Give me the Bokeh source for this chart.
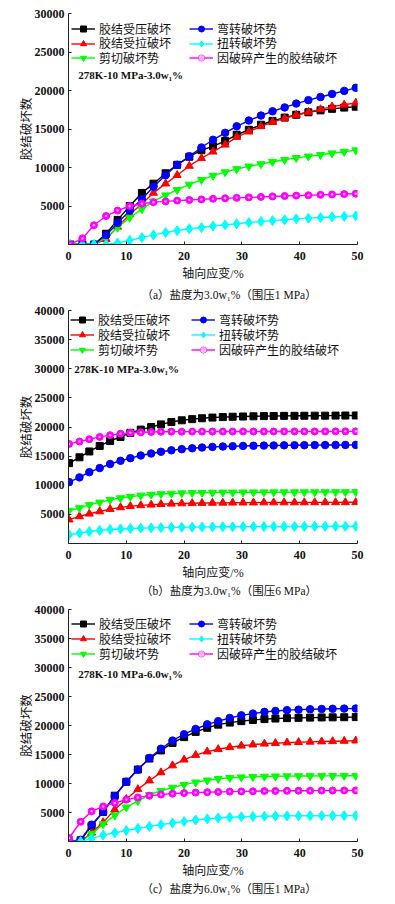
from bokeh.plotting import figure
from bokeh.models import Range1d, FixedTicker, Legend, LegendItem, Label
from bokeh.layouts import column
from bokeh.embed import file_html
from bokeh.resources import INLINE

# ---------------- data ----------------
names = ["胶结受压破坏", "胶结受拉破坏", "剪切破坏势", "弯转破坏势", "扭转破坏势", "因破碎产生的胶结破坏"]
x_ticks = [0, 10, 20, 30, 40, 50]
y_ticks_a = [5000, 10000, 15000, 20000, 25000, 30000]
y_ticks_bc = [5000, 10000, 15000, 20000, 25000, 30000, 35000, 40000]

# (a) 3.0 w% , 1 MPa
strain_a = [0.3, 2.4, 4.4, 6.5, 8.5, 10.6, 12.7, 14.7, 16.8, 18.8, 20.9, 23.0, 25.0,
            27.1, 29.1, 31.2, 33.3, 35.3, 37.4, 39.4, 41.5, 43.6, 45.6, 47.7, 49.7]
comp_a = [0, 0, 0, 1400, 3200, 5000, 6700, 7900, 9250, 10350, 11400, 12250, 12750,
          13450, 14250, 14900, 15550, 16050, 16480, 16850, 17170, 17420, 17620, 17780, 17890]
tens_a = [0, 0, 0, 700, 2300, 3900, 5300, 6700, 7900, 9000, 10200, 11200, 12050,
          12950, 13950, 14650, 15350, 15900, 16380, 16820, 17200, 17550, 17900, 18150, 18400]
shear_a = [0, 0, 0, 900, 2200, 3500, 4600, 5600, 6400, 7100, 7800, 8400, 8950,
           9400, 9800, 10150, 10450, 10750, 11000, 11250, 11450, 11650, 11850, 12050, 12250]
bend_a = [0, 0, 0, 1200, 2800, 4400, 5900, 7500, 9000, 10350, 11450, 12600, 13600,
          14500, 15350, 16100, 16750, 17300, 17800, 18300, 18750, 19150, 19550, 19950, 20350]
twist_a = [0, 0, 0, 0, 200, 550, 900, 1250, 1550, 1800, 2050, 2200, 2400,
           2550, 2700, 2850, 2980, 3100, 3220, 3330, 3420, 3500, 3580, 3650, 3720]
frag_a = [0, 800, 2500, 3700, 4400, 5000, 5300, 5500, 5600, 5700, 5780, 5860, 5940,
          6000, 6060, 6120, 6180, 6240, 6300, 6350, 6400, 6450, 6500, 6550, 6600]

# (b) 3.0 w% , 6 MPa
strain_b = [0.1, 1.9, 3.6, 5.4, 7.2, 9.0, 10.7, 12.5, 14.3, 16.0, 17.8, 19.6, 21.4, 23.1, 24.9,
            26.7, 28.4, 30.2, 32.0, 33.8, 35.5, 37.3, 39.1, 40.8, 42.6, 44.4, 46.2, 47.9, 49.7]
comp_b = [13800, 14800, 15800, 16750, 17600, 18300, 19000, 19550, 20000, 20450, 20850, 21150, 21350, 21500, 21620,
          21700, 21760, 21800, 21840, 21870, 21890, 21910, 21920, 21930, 21940, 21950, 21960, 21970, 21980]
tens_b = [4100, 4650, 5100, 5500, 5900, 6200, 6400, 6550, 6650, 6750, 6820, 6870, 6910, 6940, 6960,
          6980, 7000, 7010, 7020, 7030, 7035, 7040, 7045, 7050, 7055, 7060, 7065, 7070, 7075]
shear_b = [5650, 6100, 6650, 7050, 7500, 7800, 8050, 8250, 8400, 8500, 8580, 8640, 8690, 8720, 8750,
           8770, 8780, 8790, 8800, 8805, 8810, 8815, 8820, 8825, 8830, 8835, 8840, 8845, 8850]
bend_b = [10550, 11350, 12250, 12950, 13650, 14200, 14650, 15100, 15450, 15750, 16000, 16200, 16350, 16480, 16580,
          16650, 16700, 16750, 16780, 16810, 16830, 16850, 16870, 16880, 16890, 16900, 16910, 16920, 16930]
twist_b = [1500, 1800, 2050, 2250, 2400, 2500, 2580, 2640, 2690, 2730, 2760, 2790, 2810, 2830, 2850,
           2870, 2880, 2890, 2900, 2910, 2920, 2925, 2930, 2935, 2940, 2945, 2950, 2955, 2960]
frag_b = [17100, 17500, 17900, 18300, 18600, 18850, 19000, 19100, 19150, 19180, 19200, 19200, 19210, 19210, 19220,
          19220, 19220, 19230, 19230, 19230, 19230, 19240, 19240, 19240, 19240, 19240, 19250, 19250, 19250]

# (c) 6.0 w% , 1 MPa
strain_c = [0.1, 2.1, 4.0, 6.0, 8.0, 10.0, 12.0, 14.0, 16.0, 18.0, 20.0, 22.0, 24.0,
            25.9, 27.9, 29.9, 31.9, 33.9, 35.8, 37.8, 39.8, 41.8, 43.8, 45.7, 47.7, 49.7]
comp_c = [0, 200, 2700, 5100, 7900, 10300, 12400, 14300, 15700, 17000, 18000, 18900, 19600,
          20150, 20500, 20750, 20950, 21100, 21200, 21270, 21320, 21360, 21390, 21410, 21430, 21450]
tens_c = [0, 0, 1500, 3300, 5500, 7300, 9000, 10500, 11900, 13100, 14100, 14900, 15500,
          15900, 16250, 16500, 16700, 16850, 16950, 17050, 17120, 17180, 17230, 17280, 17330, 17380]
shear_c = [0, 0, 1300, 3000, 4500, 5900, 7000, 8050, 8750, 9300, 9800, 10200, 10550,
           10800, 10980, 11080, 11150, 11200, 11240, 11270, 11290, 11300, 11310, 11320, 11330, 11340]
bend_c = [0, 300, 2900, 5100, 7800, 10300, 12400, 14400, 16000, 17400, 18500, 19400, 20200,
          20750, 21300, 21750, 22050, 22350, 22500, 22650, 22730, 22800, 22850, 22880, 22910, 22930]
twist_c = [0, 0, 500, 1100, 1500, 1900, 2250, 2600, 2900, 3200, 3450, 3700, 3900,
           4050, 4170, 4260, 4320, 4360, 4390, 4410, 4430, 4440, 4450, 4455, 4460, 4465]
frag_c = [600, 3400, 5200, 6050, 6650, 7200, 7600, 7900, 8100, 8250, 8350, 8430, 8500,
          8550, 8600, 8640, 8670, 8700, 8720, 8740, 8760, 8770, 8780, 8790, 8800, 8810]

captions = ["（a）盐度为3.0w₁%（围压1 MPa）", "（b）盐度为3.0w₁%（围压6 MPa）", "（c）盐度为6.0w₁%（围压1 MPa）"]
notes = ["278K-10 MPa-3.0w₁%", "278K-10 MPa-3.0w₁%", "278K-10 MPa-6.0w₁%"]

# ---------------- styling ----------------
NUM_FONT = "Liberation Serif"
CJK_FONT = "Liberation Serif, Noto Sans CJK SC"
W = 378
# (color, marker, size) in the order of `names`
styles = [("#000000", "square", 7), ("#ff0000", "triangle", 8), ("#00ff00", "inverted_triangle", 8),
          ("#0000ff", "circle", 7.5), ("#00ffff", "diamond", 10), ("#ff00ff", "circle", 7)]


def make_panel(x, ys, ymax, yticks, height, top, bottom, note, note_xy, leg_x, leg_y, right=20):
    p = figure(width=W, height=height, x_range=Range1d(0, 50), y_range=Range1d(0, ymax),
               output_backend="svg", toolbar_location=None, title=None,
               min_border_left=68, min_border_right=right, min_border_top=top, min_border_bottom=bottom)
    p.outline_line_color = None
    p.grid.visible = False
    p.background_fill_color = "white"
    p.border_fill_color = "white"
    p.xaxis.ticker = FixedTicker(ticks=x_ticks)
    p.yaxis.ticker = FixedTicker(ticks=yticks)
    for ax in (p.xaxis, p.yaxis):
        ax.minor_tick_line_color = None
        ax.major_tick_in = 3
        ax.major_tick_out = 0
        ax.axis_line_color = "#222222"
        ax.major_tick_line_color = "#222222"
        ax.major_label_text_font = NUM_FONT
        ax.major_label_text_font_size = "12px"
        ax.major_label_text_font_style = "bold"
        ax.major_label_text_color = "#111111"
        ax.axis_label_text_font = CJK_FONT
        ax.axis_label_text_font_style = "normal"
        ax.axis_label_text_color = "#111111"
    p.xaxis.major_label_standoff = 7
    p.yaxis.major_label_standoff = 4
    p.xaxis.axis_label = "轴向应变/%"
    p.xaxis.axis_label_text_font_size = "12px"
    p.xaxis.axis_label_standoff = 4
    p.yaxis.axis_label = "胶结破坏数"
    p.yaxis.axis_label_text_font_size = "12.5px"
    p.yaxis.axis_label_standoff = -2

    items = []
    for name, y, (color, marker, size) in zip(names, ys, styles):
        ln = p.line(x, y, line_color=color, line_width=1.4)
        sc = p.scatter(x, y, marker=marker, size=size, fill_color=color, line_color=color)
        rs = [ln, sc]
        if name == names[5]:
            dot = p.scatter(x, y, marker="circle", size=2.5, fill_color="#ffb0ff", line_color=None)
            rs.append(dot)
        items.append(LegendItem(label=name, renderers=rs))

    # one legend per entry: two columns of three rows
    for i, it in enumerate(items):
        lg = Legend(items=[it], location=(leg_x[i // 3], leg_y[i % 3]), orientation="vertical",
                    padding=0, margin=0, spacing=0,
                    glyph_width=24, glyph_height=15, label_height=15, label_standoff=4,
                    label_text_font=CJK_FONT, label_text_font_size="12px", label_text_color="#111111",
                    border_line_color=None, background_fill_alpha=0)
        p.add_layout(lg)

    p.add_layout(Label(x=note_xy[0], y=note_xy[1], text=note, text_font=NUM_FONT,
                       text_font_size="11px", text_font_style="bold", text_baseline="middle",
                       text_color="#111111"))
    return p


def make_caption(text, height, center_from_top):
    c = figure(width=W, height=height, x_range=Range1d(0, W), y_range=Range1d(0, height),
               output_backend="svg", toolbar_location=None, title=None,
               x_axis_type=None, y_axis_type=None, min_border=0)
    c.outline_line_color = None
    c.grid.visible = False
    c.add_layout(Label(x=210, y=height - center_from_top, text=text, text_font=CJK_FONT,
                       text_font_size="11.5px", text_align="center", text_baseline="middle",
                       text_color="#111111"))
    return c


pa = make_panel(strain_a, [comp_a, tens_a, shear_a, bend_a, twist_a, frag_a], 30000, y_ticks_a,
                283, 13, 38, notes[0], (1.7, 21980), (3, 121), (206.5, 192, 177.5))
ca = make_caption(captions[0], 20, 11)
pb = make_panel(strain_b, [comp_b, tens_b, shear_b, bend_b, twist_b, frag_b], 40000, y_ticks_bc,
                279, 7, 38, notes[1], (1.0, 29900), (2, 123), (214.5, 199.5, 184.5))
cb = make_caption(captions[1], 20, 8)
pc = make_panel(strain_c, [comp_c, tens_c, shear_c, bend_c, twist_c, frag_c], 40000, y_ticks_bc,
                278, 7, 38, notes[2], (1.7, 28960), (3, 121), (208.5, 193.5, 178.5), right=21)
cc = make_caption(captions[2], 20, 8)

layout = column(pa, ca, pb, cb, pc, cc, spacing=0)
open("out.html", "w").write(file_html(layout, INLINE))
